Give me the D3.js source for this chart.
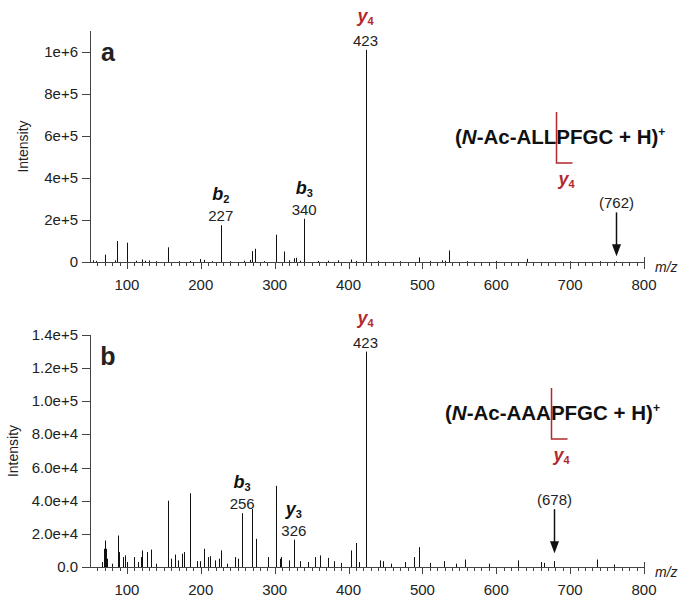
<!DOCTYPE html>
<html>
<head>
<meta charset="utf-8">
<script src="https://cdn.jsdelivr.net/npm/d3@7"></script>
<style>
	body { margin: 0; background: #fff; }
	text { font-family: "Liberation Sans", Arial, sans-serif; fill: #222; }
</style>
</head>
<body>
<svg id="chart" width="684" height="602"></svg>
<script>
// m/z axis ticks
var mzTicks = [100, 200, 300, 400, 500, 600, 700, 800];

// panel a: N-Ac-ALLPFGC, [m/z, intensity]
var peaksA = [
	[54, 8000], [58, 5000], [70, 35000], [84, 8000], [86, 100000], [100, 92000],
	[112, 6000], [120, 12000], [125, 6000], [130, 7000], [140, 4000], [155, 70000],
	[170, 4000], [185, 5000], [199, 14000], [204, 10000], [215, 4000], [227, 175000],
	[240, 4000], [258, 6000], [266, 10000], [269, 52000], [274, 63000], [285, 4000],
	[302, 130000], [312, 50000], [320, 8000], [326, 18000], [329, 20000], [334, 6000],
	[340, 206000], [358, 5000], [372, 6000], [386, 8000], [404, 12000], [410, 5000],
	[423, 1010000], [440, 5000], [470, 4000], [495, 22000], [510, 5000], [526, 8000],
	[530, 6000], [536, 55000], [560, 4000], [600, 5000], [641, 15000], [700, 3000],
	[740, 4000], [762, 3000]
];
var yTicksA = [0, 200000, 400000, 600000, 800000, 1000000];
var yLabelsA = ["0", "2e+5", "4e+5", "6e+5", "8e+5", "1e+6"];
var ionsA = [
	{name: "y", sub: "4", mz: 423, label: "423", red: true},
	{name: "b", sub: "2", mz: 227, label: "227", red: false},
	{name: "b", sub: "3", mz: 340, label: "340", red: false}
];
var precursorA = {mz: 762, label: "(762)"};
var seqA = ["ALL", "PFGC"];

// panel b: N-Ac-AAAPFGC
var peaksB = [
	[66, 3000], [69, 11000], [70, 16000], [71, 11000], [73, 5000], [80, 2000],
	[88, 19000], [89, 9000], [94, 6000], [98, 7000], [100, 3000], [110, 6000],
	[115, 3000], [119, 6000], [120, 10000], [127, 9000], [133, 10500], [140, 2000],
	[155, 40000], [156, 7000], [160, 5000], [165, 7500], [169, 4000], [175, 8000],
	[177, 9000], [185, 44500], [195, 3500], [199, 3500], [205, 11000], [210, 6000],
	[212, 6500], [219, 4000], [224, 5000], [228, 10000], [235, 2000], [246, 6000],
	[250, 5000], [256, 32500], [269, 35000], [275, 17000], [291, 6000], [302, 49000],
	[307, 5000], [309, 6000], [320, 4000], [326, 16500], [334, 3500], [345, 3000],
	[354, 6000], [362, 7000], [372, 5500], [381, 3500], [390, 2500], [404, 10000],
	[410, 14500], [414, 3000], [423, 130000], [443, 4000], [446, 3500], [458, 2000],
	[476, 3000], [488, 6000], [495, 12000], [510, 2500], [529, 3500], [545, 2000],
	[557, 4500], [590, 2000], [629, 4000], [661, 3000], [664, 2500], [678, 3500],
	[737, 4500], [760, 1500]
];
var yTicksB = [0, 20000, 40000, 60000, 80000, 100000, 120000, 140000];
var yLabelsB = ["0.0", "2.0e+4", "4.0e+4", "6.0e+4", "8.0e+4", "1.0e+5", "1.2e+5", "1.4e+5"];
var ionsB = [
	{name: "y", sub: "4", mz: 423, label: "423", red: true},
	{name: "b", sub: "3", mz: 256, label: "256", red: false},
	{name: "y", sub: "3", mz: 326, label: "326", red: false}
];
var precursorB = {mz: 678, label: "(678)"};
var seqB = ["AAA", "PFGC"];

var red = "#b3282d";
var svg = d3.select("#chart");

function drawPanel(p) {
	var x = d3.scaleLinear().domain([50, 800]).range([90, 644]);
	var y = d3.scaleLinear().domain([0, p.yMax]).range([p.bottom, p.top]);
	var g = svg.append("g");

	// x axis: minor ticks every 10, major every 100
	var minor = d3.range(60, 800, 10).filter(function(d) { return d % 100 != 0; });
	g.append("line")
		.attr("x1", 83).attr("x2", x(800))
		.attr("y1", p.bottom + 0.5).attr("y2", p.bottom + 0.5)
		.attr("stroke", "#444");
	g.selectAll(".minor").data(minor).enter().append("line")
		.attr("x1", function(d) { return Math.round(x(d)) + 0.5; })
		.attr("x2", function(d) { return Math.round(x(d)) + 0.5; })
		.attr("y1", p.bottom).attr("y2", p.bottom + 4)
		.attr("stroke", "#444");
	g.selectAll(".major").data(mzTicks).enter().append("line")
		.attr("x1", function(d) { return Math.round(x(d)) + 0.5; })
		.attr("x2", function(d) { return Math.round(x(d)) + 0.5; })
		.attr("y1", function(d) { return d == 800 ? p.bottom - 5 : p.bottom; })
		.attr("y2", p.bottom + 7)
		.attr("stroke", "#444");
	g.selectAll(".xlab").data(mzTicks).enter().append("text")
		.attr("x", function(d) { return x(d); })
		.attr("y", p.bottom + 28)
		.attr("text-anchor", "middle")
		.attr("font-size", 15)
		.text(String);
	g.append("text")
		.attr("x", 655).attr("y", p.bottom + 10)
		.attr("font-size", 14).attr("font-style", "italic")
		.text("m/z");

	// y axis
	g.append("line")
		.attr("x1", 90.5).attr("x2", 90.5)
		.attr("y1", p.bottom).attr("y2", p.axisTop)
		.attr("stroke", "#444");
	g.selectAll(".ytick").data(p.yTicks).enter().append("line")
		.attr("x1", 82).attr("x2", 90)
		.attr("y1", function(d) { return Math.round(y(d)) + 0.5; })
		.attr("y2", function(d) { return Math.round(y(d)) + 0.5; })
		.attr("stroke", "#444");
	g.selectAll(".ylab").data(p.yTicks).enter().append("text")
		.attr("x", 78)
		.attr("y", function(d) { return y(d) + 5; })
		.attr("text-anchor", "end")
		.attr("font-size", 15)
		.text(function(d, i) { return p.yLabels[i]; });
	g.append("text")
		.attr("transform", "translate(" + p.titleX + "," + ((p.bottom + p.axisTop) / 2) + ") rotate(-90)")
		.attr("text-anchor", "middle")
		.attr("font-size", 14)
		.text("Intensity");

	// panel letter
	g.append("text")
		.attr("x", 108).attr("y", p.top + 30)
		.attr("text-anchor", "middle")
		.attr("font-size", 25).attr("font-weight", "bold")
		.attr("fill", "#111")
		.text(p.letter);

	// peaks
	g.selectAll(".peak").data(p.peaks).enter().append("line")
		.attr("x1", function(d) { return Math.round(x(d[0])) + 0.5; })
		.attr("x2", function(d) { return Math.round(x(d[0])) + 0.5; })
		.attr("y1", p.bottom)
		.attr("y2", function(d) { return y(d[1]); })
		.attr("stroke", "#111")
		.attr("stroke-width", 1);

	// ion annotations
	var peakAt = function(mz) {
		return p.peaks.filter(function(d) { return d[0] == mz; })[0][1];
	};
	p.ions.forEach(function(ion) {
		var top = y(peakAt(ion.mz)) - 4;
		var cx = x(ion.mz);
		g.append("text")
			.attr("x", cx).attr("y", top)
			.attr("text-anchor", "middle")
			.attr("font-size", 15)
			.text(ion.label);
		var t = g.append("text")
			.attr("x", cx).attr("y", top - (ion.red ? 24 : 21))
			.attr("text-anchor", "middle")
			.attr("font-weight", "bold")
			.attr("fill", ion.red ? red : "#111");
		t.append("tspan").attr("font-size", 18).attr("font-style", "italic")
			.attr("fill", ion.red ? red : "#111").text(ion.name);
		t.append("tspan").attr("font-size", 11).attr("dy", 3)
			.attr("fill", ion.red ? red : "#111").text(ion.sub);
	});

	// precursor arrow
	var px = Math.round(x(p.precursor.mz)) + 0.5;
	var tip = y(peakAt(p.precursor.mz)) - p.arrowGap;
	g.append("line")
		.attr("x1", px).attr("x2", px)
		.attr("y1", tip - 44).attr("y2", tip - 10)
		.attr("stroke", "#111").attr("stroke-width", 1.5);
	g.append("path")
		.attr("d", "M" + (px - 4.5) + "," + (tip - 12) + "L" + (px + 4.5) + "," + (tip - 12) + "L" + px + "," + tip + "Z")
		.attr("fill", "#111");
	g.append("text")
		.attr("x", px).attr("y", tip - 48)
		.attr("text-anchor", "middle")
		.attr("font-size", 15)
		.text(p.precursor.label);

	// peptide with cleavage bracket
	var pep = g.append("text")
		.attr("x", p.seqX).attr("y", p.seqY)
		.attr("font-size", 20.5).attr("font-weight", "bold")
		.attr("fill", "#111");
	pep.append("tspan").attr("fill", "#111").text("(");
	pep.append("tspan").attr("fill", "#111").attr("font-style", "italic").text("N");
	pep.append("tspan").attr("fill", "#111").text("-Ac-" + p.seq[0]);
	pep.append("tspan").attr("fill", "#111").text(p.seq[1] + " + H)");
	pep.append("tspan").attr("fill", "#111").attr("font-size", 12).attr("dy", -8).text("+");
	var cut = p.seqX + pep.node().getSubStringLength(0, ("(N-Ac-" + p.seq[0]).length);
	cut = Math.round(cut) + 0.5;
	g.append("path")
		.attr("d", "M" + cut + "," + (p.seqY - 32) + "V" + (p.seqY + 19) + "H" + (cut + 16))
		.attr("fill", "none")
		.attr("stroke", red).attr("stroke-width", 1.5);
	var yl = g.append("text")
		.attr("x", cut + 10).attr("y", p.seqY + 41)
		.attr("text-anchor", "middle")
		.attr("font-weight", "bold");
	yl.append("tspan").attr("font-size", 18).attr("font-style", "italic").attr("fill", red).text("y");
	yl.append("tspan").attr("font-size", 11).attr("dy", 3).attr("fill", red).text("4");
}

drawPanel({
	letter: "a", peaks: peaksA, yTicks: yTicksA, yLabels: yLabelsA,
	yMax: 1100000, top: 31, axisTop: 31, bottom: 262, titleX: 28,
	ions: ionsA, precursor: precursorA, arrowGap: 5,
	seq: seqA, seqX: 455, seqY: 144
});
drawPanel({
	letter: "b", peaks: peaksB, yTicks: yTicksB, yLabels: yLabelsB,
	yMax: 140000, top: 335, axisTop: 335, bottom: 567, titleX: 18,
	ions: ionsB, precursor: precursorB, arrowGap: 8,
	seq: seqB, seqX: 445, seqY: 420
});
</script>
</body>
</html>
